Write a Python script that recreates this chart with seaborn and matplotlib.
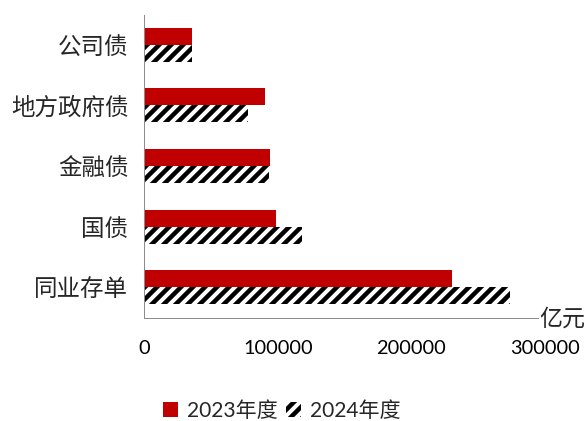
import numpy as np
import pandas as pd
import matplotlib
matplotlib.use("Agg")
import matplotlib.pyplot as plt
from matplotlib.patches import Patch
import seaborn as sns

# Bond issuance by category, in 亿元
categories = ["公司债", "地方政府债", "金融债", "国债", "同业存单"]
years = ["2023年度", "2024年度"]
values_2023 = [35500, 90000, 94300, 98600, 230000]
values_2024 = [35500, 77300, 93300, 117800, 273800]
x_ticks = [0, 100000, 200000, 300000]
x_tick_labels = ["0", "100000", "200000", "300000"]
unit_label = "亿元"

RED = "#C00000"
AXIS_GREY = "#8C8C8C"

sns.set_theme(style="white")
plt.rcParams["font.family"] = ["Lato", "Noto Sans CJK SC", "DejaVu Sans"]
plt.rcParams["hatch.linewidth"] = 4.5
plt.rcParams["hatch.color"] = "black"

df = pd.DataFrame({
    "类别": categories * 2,
    "规模": values_2023 + values_2024,
    "年度": [years[0]] * len(categories) + [years[1]] * len(categories),
})

DPI = 72
fig = plt.figure(figsize=(587 / DPI, 421 / DPI), dpi=DPI)
ax = fig.add_axes([144.3 / 587, 1 - 317.5 / 421, (545 - 144.3) / 587, (317.5 - 14.5) / 421])

sns.barplot(data=df, y="类别", x="规模", hue="年度", order=categories,
            hue_order=years, palette=[RED, "white"], orient="h",
            width=0.56, gap=0, saturation=1, legend=False, ax=ax)

for bar in ax.containers[0]:
    bar.set_linewidth(0)
for bar in ax.containers[1]:
    bar.set_facecolor("white")
    bar.set_edgecolor("black")
    bar.set_hatch("//")
    bar.set_linewidth(0)

ax.set_xlim(0, 300000)
ax.set_ylim(len(categories) - 0.5, -0.5)
ax.set_xticks(x_ticks)
ax.set_xticklabels(x_tick_labels, fontsize=20, family=["Lato", "DejaVu Sans"])
ax.set_yticks(range(len(categories)))
ax.set_yticklabels(categories, fontsize=23.5, family=["Noto Sans CJK SC", "DejaVu Sans"])
ax.set_yticks(np.arange(-0.5, len(categories), 1), minor=True)
ax.tick_params(axis="y", which="major", length=0, pad=16)
ax.tick_params(axis="y", which="minor", length=9, width=1, color=AXIS_GREY, direction="out")
ax.tick_params(axis="x", which="major", length=10, width=1, color=AXIS_GREY,
               direction="out", pad=12, labelcolor="black")
ax.set_xlabel("")
ax.set_ylabel("")
ax.grid(False)

for side in ["top", "right"]:
    ax.spines[side].set_visible(False)
for side in ["left", "bottom"]:
    ax.spines[side].set_color(AXIS_GREY)
    ax.spines[side].set_linewidth(1)

fig.text(539 / 587, 1 - 319 / 421, unit_label, fontsize=23, va="center", ha="left",
         family=["Noto Sans CJK SC", "DejaVu Sans"],
         bbox=dict(facecolor="white", edgecolor="none", pad=0))

handles = [
    Patch(facecolor=RED, edgecolor=RED, linewidth=0, label=years[0]),
    Patch(facecolor="white", edgecolor="black", linewidth=0, hatch="//", label=years[1]),
]
fig.legend(handles=handles, loc="center", bbox_to_anchor=(282 / 587, 1 - 411 / 421),
           ncol=2, frameon=False, handlelength=0.7, handleheight=0.7,
           handletextpad=0.45, columnspacing=0.4,
           prop={"family": ["Lato", "Noto Sans CJK SC"], "size": 21})

fig.savefig("out.png", dpi=DPI, facecolor="white")
